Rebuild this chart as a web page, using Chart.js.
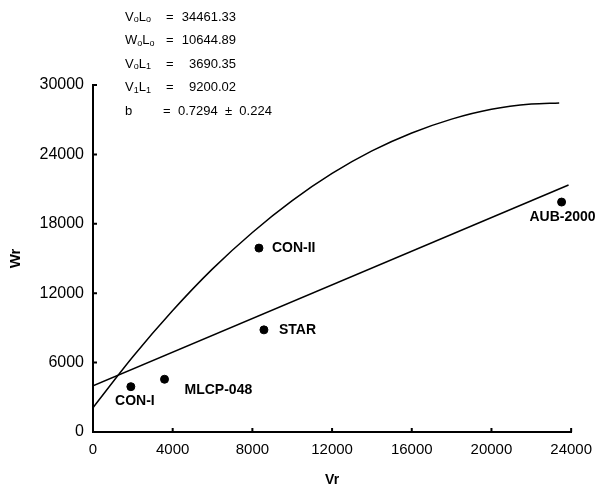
<!DOCTYPE html>
<html>
<head>
<meta charset="utf-8">
<script src="https://cdn.jsdelivr.net/npm/chart.js@4.4.1/dist/chart.umd.min.js"></script>
<style>
  html, body { margin: 0; padding: 0; background: #fff; }
  #wrap { width: 601px; height: 491px; }
</style>
</head>
<body>
<div id="wrap"><canvas id="wrChart"></canvas></div>
<script>
// sample points
const sampleNames = ["CON-I", "MLCP-048", "CON-II", "STAR", "AUB-2000"];
const sampleVr = [1900, 3590, 8330, 8580, 23520];
const sampleWr = [3920, 4560, 15900, 8830, 19880];

// straight fit line (end points)
const lineVr = [0, 23870];
const lineWr = [4000, 21360];

// curved fit
const curveVr = [0, 2000, 4000, 6000, 8000, 10000, 12000, 14000, 16000, 18000, 20000, 22000, 23400];
const curveWr = [2100, 6500, 10500, 14100, 17250, 20000, 22350, 24300, 25850, 27050, 27900, 28350, 28450];

// axes
const xTicks = [0, 4000, 8000, 12000, 16000, 20000, 24000];
const yTicks = [0, 6000, 12000, 18000, 24000, 30000];

// statistics box
const statSymbols = [["V", "o", "L", "o"], ["W", "o", "L", "o"], ["V", "o", "L", "1"], ["V", "1", "L", "1"], ["b"]];
const statValues = ["34461.33", "10644.89", "3690.35", "9200.02", "0.7294  \u00b1  0.224"];

const FONT = "'Liberation Sans', Arial, sans-serif";

// label placement next to each point (dx, dy, align)
const labelPos = [
    { dx: 4, dy: 14, align: "center" },
    { dx: 20, dy: 11, align: "left" },
    { dx: 13, dy: 0, align: "left" },
    { dx: 15, dy: 0, align: "left" },
    { dx: 1, dy: 15, align: "center" }
];

const pointLabels = {
    id: "pointLabels",
    afterDatasetsDraw(chart) {
        const ctx = chart.ctx;
        const meta = chart.getDatasetMeta(2);
        ctx.save();
        ctx.fillStyle = "#000";
        ctx.font = "bold 14px " + FONT;
        ctx.textBaseline = "middle";
        meta.data.forEach((pt, i) => {
            const p = labelPos[i];
            ctx.textAlign = p.align;
            ctx.fillText(sampleNames[i], pt.x + p.dx, pt.y + p.dy);
        });
        ctx.restore();
    }
};

const innerTicks = {
    id: "innerTicks",
    afterDraw(chart) {
        const ctx = chart.ctx;
        const xs = chart.scales.x, ys = chart.scales.y;
        ctx.save();
        ctx.strokeStyle = "#000";
        ctx.lineWidth = 2;
        ctx.beginPath();
        xTicks.forEach(v => {
            const px = xs.getPixelForValue(v);
            ctx.moveTo(px, ys.bottom);
            ctx.lineTo(px, ys.bottom - 4);
        });
        yTicks.forEach(v => {
            const py = ys.getPixelForValue(v);
            ctx.moveTo(xs.left, py);
            ctx.lineTo(xs.left + 4, py);
        });
        ctx.stroke();
        ctx.restore();
    }
};

const statBox = {
    id: "statBox",
    afterDraw(chart) {
        const ctx = chart.ctx;
        ctx.save();
        ctx.fillStyle = "#000";
        ctx.textBaseline = "middle";
        statSymbols.forEach((parts, i) => {
            const y = 17 + i * 23.5;
            let x = 125;
            ctx.textAlign = "left";
            parts.forEach((s, j) => {
                const sub = j % 2 === 1;
                ctx.font = (sub ? "9px " : "13px ") + FONT;
                ctx.fillText(s, x, sub ? y + 3 : y);
                x += ctx.measureText(s).width;
            });
            ctx.font = "13px " + FONT;
            if (i < 4) {
                ctx.fillText("=", 166, y);
                ctx.textAlign = "right";
                ctx.fillText(statValues[i], 236, y);
            } else {
                ctx.fillText("=", 163, y);
                ctx.fillText(statValues[i], 178, y);
            }
        });
        ctx.restore();
    }
};

const ctx = document.getElementById("wrChart").getContext("2d");
const wrChart = new Chart(ctx, {
    type: "scatter",
    data: {
        datasets: [
            {
                label: "curve",
                data: curveVr.map((v, i) => ({ x: v, y: curveWr[i] })),
                showLine: true,
                borderColor: "#000",
                borderWidth: 1.5,
                pointRadius: 0,
                cubicInterpolationMode: "monotone",
                fill: false
            },
            {
                label: "line",
                data: lineVr.map((v, i) => ({ x: v, y: lineWr[i] })),
                showLine: true,
                borderColor: "#000",
                borderWidth: 1.5,
                pointRadius: 0,
                fill: false
            },
            {
                label: "samples",
                data: sampleVr.map((v, i) => ({ x: v, y: sampleWr[i] })),
                backgroundColor: "#000",
                borderColor: "#000",
                pointRadius: 4,
                showLine: false
            }
        ]
    },
    options: {
        responsive: true,
        maintainAspectRatio: false,
        animation: false,
        layout: { padding: { left: 0, top: 85, right: 27, bottom: 0 } },
        plugins: {
            legend: { display: false },
            tooltip: { enabled: false }
        },
        scales: {
            x: {
                type: "linear",
                min: 0,
                max: 24000,
                afterBuildTicks: s => { s.ticks = xTicks.map(v => ({ value: v })); },
                afterFit: s => { s.height = 59; },
                grid: { display: false, drawTicks: false },
                border: { display: true, color: "#000", width: 2 },
                ticks: {
                    color: "#000",
                    padding: 9,
                    maxRotation: 0,
                    callback: v => String(v),
                    font: { family: FONT, size: 15 }
                },
                title: {
                    display: true,
                    text: "Vr",
                    color: "#000",
                    padding: { top: 0, bottom: 2 },
                    font: { family: FONT, size: 14, weight: "bold" }
                }
            },
            y: {
                type: "linear",
                min: 0,
                max: 30000,
                afterBuildTicks: s => { s.ticks = yTicks.map(v => ({ value: v })); },
                afterFit: s => { s.width = 93; },
                grid: { display: false, drawTicks: false },
                border: { display: true, color: "#000", width: 2 },
                ticks: {
                    color: "#000",
                    padding: 9,
                    callback: v => String(v),
                    font: { family: FONT, size: 16 }
                },
                title: {
                    display: true,
                    text: "Wr",
                    color: "#000",
                    padding: { top: 7, bottom: 0 },
                    font: { family: FONT, size: 15, weight: "bold" }
                }
            }
        }
    },
    plugins: [pointLabels, innerTicks, statBox]
});
</script>
</body>
</html>
